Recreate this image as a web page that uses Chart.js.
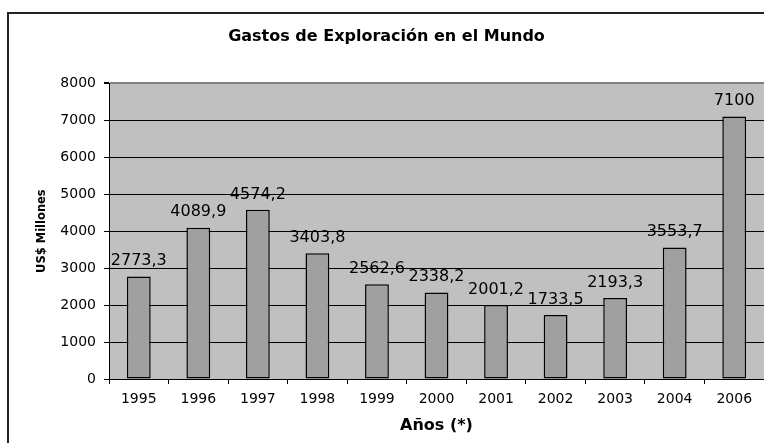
<!DOCTYPE html>
<html>
<head>
<meta charset="utf-8">
<script src="https://cdn.jsdelivr.net/npm/chart.js@4"></script>
<style>
  html, body { margin: 0; padding: 0; background: #fff; }
  #wrap { width: 764px; height: 443px; position: relative; }
</style>
</head>
<body>
<div id="wrap"><canvas id="gastosChart"></canvas></div>
<script>
const years = ['1995', '1996', '1997', '1998', '1999', '2000', '2001', '2002', '2003', '2004', '2006'];
const gastos = [2773.3, 4089.9, 4574.2, 3403.8, 2562.6, 2338.2, 2001.2, 1733.5, 2193.3, 3553.7, 7100];
const yMax = 8000;
const yStep = 1000;

const FONT = '"DejaVu Sans", Verdana, sans-serif';

// grey plot area + the chart frame (only its top and left edges are inside the crop)
const frame = {
  id: 'frame',
  beforeDraw(chart) {
    const { ctx, chartArea: a } = chart;
    ctx.save();
    ctx.fillStyle = '#c0c0c0';
    ctx.fillRect(a.left, a.top, a.right - a.left, a.bottom - a.top);
    ctx.restore();
  },
  afterDraw(chart) {
    const ctx = chart.ctx;
    ctx.save();
    ctx.strokeStyle = '#222';
    ctx.lineWidth = 2;
    ctx.beginPath();
    ctx.moveTo(8, chart.height);
    ctx.lineTo(8, 13);
    ctx.lineTo(chart.width, 13);
    ctx.stroke();
    ctx.restore();
  }
};

// value above each bar, with a decimal comma
const valueLabels = {
  id: 'valueLabels',
  afterDatasetsDraw(chart) {
    const ctx = chart.ctx;
    const meta = chart.getDatasetMeta(0);
    ctx.save();
    ctx.font = '16px ' + FONT;
    ctx.fillStyle = '#000';
    ctx.textAlign = 'center';
    ctx.textBaseline = 'middle';
    meta.data.forEach((bar, i) => {
      const txt = String(gastos[i]).replace('.', ',');
      ctx.fillText(txt, bar.x, bar.y - 15.5);
    });
    ctx.restore();
  }
};

new Chart(document.getElementById('gastosChart'), {
  type: 'bar',
  data: {
    labels: years,
    datasets: [{
      data: gastos,
      backgroundColor: '#a0a0a0',
      borderColor: '#000',
      borderWidth: 1.5,
      borderSkipped: false,
      barPercentage: 0.4,
      categoryPercentage: 1.0
    }]
  },
  options: {
    responsive: true,
    maintainAspectRatio: false,
    animation: false,
    layout: { padding: { left: 9, top: 0, right: 0, bottom: 0 } },
    plugins: {
      legend: { display: false },
      tooltip: { enabled: false },
      title: {
        display: true,
        text: 'Gastos de Exploración en el Mundo',
        color: '#000',
        font: { family: FONT, size: 16, weight: 'bold' },
        padding: { top: 27, bottom: 37 }
      }
    },
    scales: {
      x: {
        offset: true,
        afterFit: s => { s.height = 64; },
        grid: { offset: true, drawOnChartArea: false, color: '#000', tickLength: 5 },
        border: { color: '#000', width: 1 },
        ticks: { color: '#000', padding: 7, font: { family: FONT, size: 14 } },
        title: {
          display: true,
          text: 'Años (*)',
          color: '#000',
          font: { family: FONT, size: 16, weight: 'bold' },
          padding: { top: 0, bottom: 8 }
        }
      },
      y: {
        min: 0,
        max: yMax,
        afterFit: s => { s.width = 100; },
        grid: {
          color: c => c.tick.value === yMax ? '#808080' : '#000',
          lineWidth: c => c.tick.value === yMax ? 2 : 1,
          tickColor: '#000',
          tickLength: 5
        },
        border: { color: '#000', width: 1 },
        ticks: {
          stepSize: yStep,
          color: '#000',
          padding: 8,
          font: { family: FONT, size: 14 },
          callback: v => String(v)
        },
        title: {
          display: true,
          text: 'US$ Millones',
          color: '#000',
          font: { family: FONT, size: 11.5, weight: 'bold' },
          padding: { top: 26, bottom: 0 }
        }
      }
    }
  },
  plugins: [frame, valueLabels]
});
</script>
</body>
</html>
